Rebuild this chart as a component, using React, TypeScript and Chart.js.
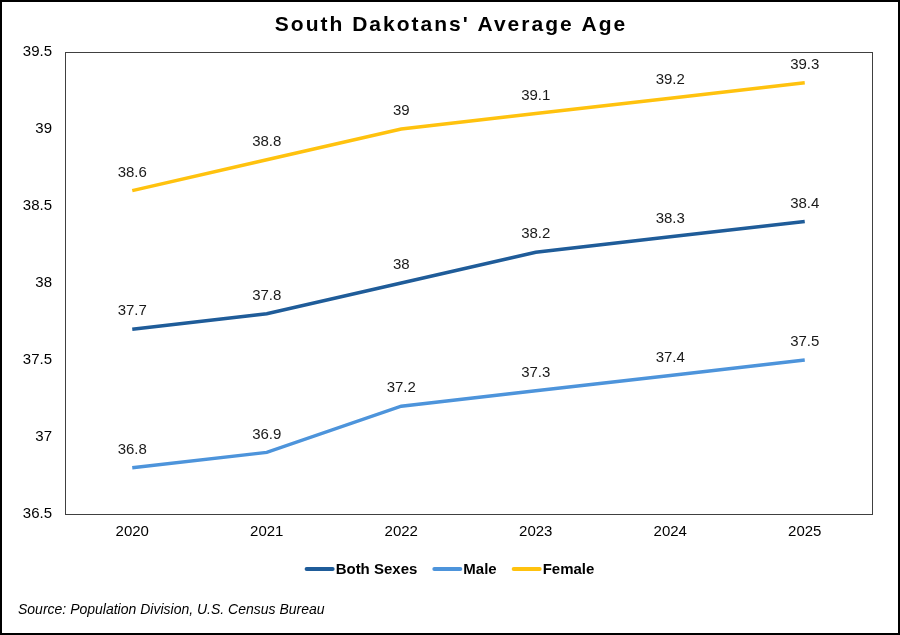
import React, { useEffect, useRef } from "react";
import { Chart, registerables } from "chart.js";

Chart.register(...registerables);

const years = ["2020", "2021", "2022", "2023", "2024", "2025"];
const bothSexes = [37.7, 37.8, 38.0, 38.2, 38.3, 38.4];
const male = [36.8, 36.9, 37.2, 37.3, 37.4, 37.5];
const female = [38.6, 38.8, 39.0, 39.1, 39.2, 39.3];
const seriesNames = ["Both Sexes", "Male", "Female"];
const seriesColors = ["#1F5C99", "#4D94DB", "#FFC20E"];
const titleText = "South Dakotans' Average Age";
const sourceText = "Source: Population Division, U.S. Census Bureau";

const FONT = "'Liberation Sans', Arial, sans-serif";

const decorPlugin = {
  id: "decor",
  afterDatasetsDraw(chart: any) {
    const ctx = chart.ctx;
    const ca = chart.chartArea;
    ctx.save();
    ctx.strokeStyle = "#404040";
    ctx.lineWidth = 1;
    ctx.strokeRect(Math.round(ca.left) + 0.5, Math.round(ca.top) + 0.5, Math.round(ca.right - ca.left), Math.round(ca.bottom - ca.top));
    ctx.fillStyle = "#1a1a1a";
    ctx.font = `15px ${FONT}`;
    ctx.textAlign = "center";
    ctx.textBaseline = "middle";
    chart.data.datasets.forEach((ds: any, i: number) => {
      const meta = chart.getDatasetMeta(i);
      meta.data.forEach((pt: any, j: number) => {
        ctx.fillText(String(ds.data[j]), pt.x, pt.y - 18);
      });
    });
    ctx.restore();
  },
  afterDraw(chart: any) {
    const ctx = chart.ctx;
    const W = chart.width;
    const H = chart.height;
    ctx.save();
    ctx.strokeStyle = "#000";
    ctx.lineWidth = 2;
    ctx.strokeRect(1, 1, W - 2, H - 2);
    ctx.fillStyle = "#000";
    ctx.font = `bold 21px ${FONT}`;
    (ctx as any).letterSpacing = "2px";
    ctx.textAlign = "center";
    ctx.textBaseline = "middle";
    ctx.fillText(titleText, W / 2 + 1, 25);
    (ctx as any).letterSpacing = "0px";
    ctx.font = `italic 14px ${FONT}`;
    ctx.textAlign = "left";
    ctx.fillText(sourceText, 18, 610);
    ctx.font = `bold 15px ${FONT}`;
    const lineW = 28;
    const gapText = 2;
    const gapItem = 16;
    const widths = seriesNames.map((n) => lineW + gapText + ctx.measureText(n).width);
    const total = widths.reduce((a, b) => a + b, 0) + gapItem * (seriesNames.length - 1);
    let x = W / 2 - total / 2;
    const y = 569;
    seriesNames.forEach((n, i) => {
      ctx.strokeStyle = seriesColors[i];
      ctx.lineWidth = 4;
      ctx.lineCap = "round";
      ctx.beginPath();
      ctx.moveTo(x + 1, y);
      ctx.lineTo(x + lineW - 1, y);
      ctx.stroke();
      ctx.fillStyle = "#000";
      ctx.fillText(n, x + lineW + gapText, y + 1);
      x += widths[i] + gapItem;
    });
    ctx.restore();
  },
};

export default function App() {
  const ref = useRef<HTMLCanvasElement>(null);
  useEffect(() => {
    if (!ref.current) return;
    const chart = new Chart(ref.current, {
      type: "line",
      data: {
        labels: years,
        datasets: [bothSexes, male, female].map((d, i) => ({
          label: seriesNames[i],
          data: d,
          borderColor: seriesColors[i],
          backgroundColor: seriesColors[i],
          borderWidth: 3.5,
          pointRadius: 0,
          tension: 0,
          fill: false,
        })),
      },
      options: {
        animation: false,
        responsive: false,
        devicePixelRatio: 1,
        layout: { padding: { top: 52, right: 28, bottom: 91, left: 0 } },
        plugins: {
          legend: { display: false },
          title: { display: false },
          tooltip: { enabled: false },
        },
        scales: {
          x: {
            offset: true,
            grid: { display: false, drawTicks: false },
            border: { display: false },
            ticks: { color: "#000", font: { family: FONT, size: 15 }, padding: 9, maxRotation: 0 },
            afterFit: (s: any) => { s.height = 30; },
          },
          y: {
            min: 36.5,
            max: 39.5,
            grid: { display: false, drawTicks: false },
            border: { display: false },
            ticks: {
              stepSize: 0.5,
              color: "#000",
              font: { family: FONT, size: 15 },
              padding: 13,
              callback: (v: any) => String(Math.round(Number(v) * 10) / 10),
            },
            afterFit: (s: any) => { s.width = 65; },
          },
        },
      },
      plugins: [decorPlugin],
    });
    return () => chart.destroy();
  }, []);
  return (
    <div style={{ position: "absolute", left: 0, top: 0, width: 900, height: 635, background: "#fff" }}>
      <canvas ref={ref} width={900} height={635} style={{ display: "block" }} />
    </div>
  );
}
